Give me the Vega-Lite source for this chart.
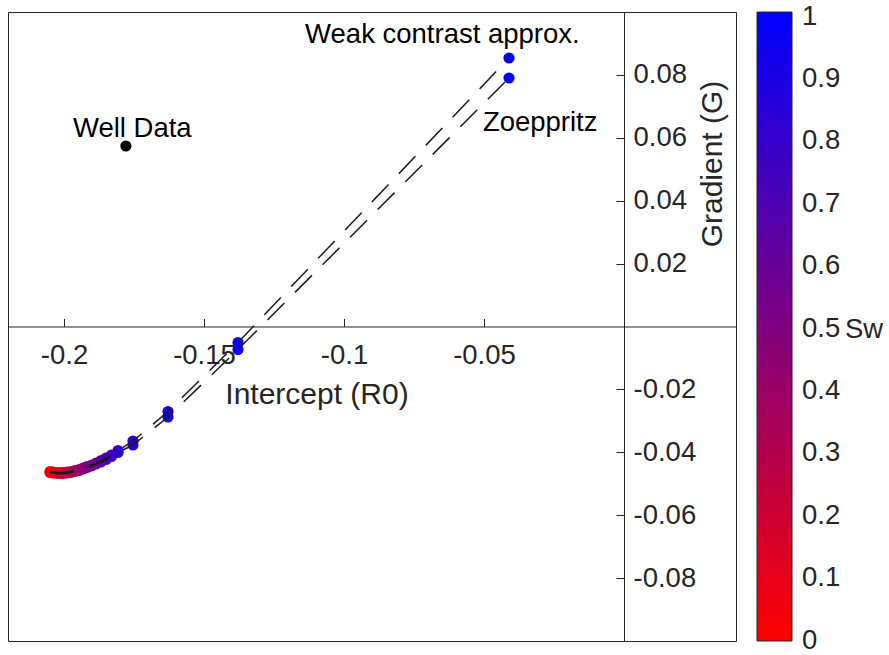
{
  "$schema": "https://vega.github.io/schema/vega-lite/v6.json",
  "width": 728,
  "height": 629,
  "autosize": {"type": "none"},
  "padding": {"left": 8, "top": 12, "right": 153, "bottom": 14},
  "background": "white",
  "config": {
    "font": "Liberation Sans",
    "view": {"stroke": "#262626", "strokeWidth": 1},
    "axis": {"grid": false}
  },
  "datasets": {
    "curves": [
      {"method": "Weak contrast", "Sw": 0, "R0": -0.2050, "G": -0.04610},
      {"method": "Weak contrast", "Sw": 0.05, "R0": -0.20393, "G": -0.04626},
      {"method": "Weak contrast", "Sw": 0.1, "R0": -0.20268, "G": -0.04642},
      {"method": "Weak contrast", "Sw": 0.15, "R0": -0.20143, "G": -0.04642},
      {"method": "Weak contrast", "Sw": 0.2, "R0": -0.20018, "G": -0.04642},
      {"method": "Weak contrast", "Sw": 0.25, "R0": -0.19893, "G": -0.04626},
      {"method": "Weak contrast", "Sw": 0.3, "R0": -0.19750, "G": -0.04610},
      {"method": "Weak contrast", "Sw": 0.35, "R0": -0.19607, "G": -0.04579},
      {"method": "Weak contrast", "Sw": 0.4, "R0": -0.19464, "G": -0.04547},
      {"method": "Weak contrast", "Sw": 0.45, "R0": -0.19321, "G": -0.04499},
      {"method": "Weak contrast", "Sw": 0.5, "R0": -0.19179, "G": -0.04452},
      {"method": "Weak contrast", "Sw": 0.55, "R0": -0.19018, "G": -0.04404},
      {"method": "Weak contrast", "Sw": 0.6, "R0": -0.18857, "G": -0.04340},
      {"method": "Weak contrast", "Sw": 0.65, "R0": -0.18679, "G": -0.04261},
      {"method": "Weak contrast", "Sw": 0.7, "R0": -0.18500, "G": -0.04181},
      {"method": "Weak contrast", "Sw": 0.75, "R0": -0.18304, "G": -0.04086},
      {"method": "Weak contrast", "Sw": 0.8, "R0": -0.18071, "G": -0.03943},
      {"method": "Weak contrast", "Sw": 0.85, "R0": -0.17536, "G": -0.03641},
      {"method": "Weak contrast", "Sw": 0.9, "R0": -0.16286, "G": -0.02703},
      {"method": "Weak contrast", "Sw": 0.95, "R0": -0.13786, "G": -0.00509},
      {"method": "Weak contrast", "Sw": 1, "R0": -0.04107, "G": 0.08537},
      {"method": "Zoeppritz", "Sw": 0, "R0": -0.2050, "G": -0.04642},
      {"method": "Zoeppritz", "Sw": 0.05, "R0": -0.20393, "G": -0.04658},
      {"method": "Zoeppritz", "Sw": 0.1, "R0": -0.20268, "G": -0.04674},
      {"method": "Zoeppritz", "Sw": 0.15, "R0": -0.20143, "G": -0.04674},
      {"method": "Zoeppritz", "Sw": 0.2, "R0": -0.20018, "G": -0.04674},
      {"method": "Zoeppritz", "Sw": 0.25, "R0": -0.19893, "G": -0.04658},
      {"method": "Zoeppritz", "Sw": 0.3, "R0": -0.19750, "G": -0.04642},
      {"method": "Zoeppritz", "Sw": 0.35, "R0": -0.19607, "G": -0.04610},
      {"method": "Zoeppritz", "Sw": 0.4, "R0": -0.19464, "G": -0.04579},
      {"method": "Zoeppritz", "Sw": 0.45, "R0": -0.19321, "G": -0.04531},
      {"method": "Zoeppritz", "Sw": 0.5, "R0": -0.19179, "G": -0.04483},
      {"method": "Zoeppritz", "Sw": 0.55, "R0": -0.19018, "G": -0.04436},
      {"method": "Zoeppritz", "Sw": 0.6, "R0": -0.18857, "G": -0.04372},
      {"method": "Zoeppritz", "Sw": 0.65, "R0": -0.18679, "G": -0.04308},
      {"method": "Zoeppritz", "Sw": 0.7, "R0": -0.18500, "G": -0.04229},
      {"method": "Zoeppritz", "Sw": 0.75, "R0": -0.18304, "G": -0.04134},
      {"method": "Zoeppritz", "Sw": 0.8, "R0": -0.18071, "G": -0.04006},
      {"method": "Zoeppritz", "Sw": 0.85, "R0": -0.17536, "G": -0.03768},
      {"method": "Zoeppritz", "Sw": 0.9, "R0": -0.16286, "G": -0.02878},
      {"method": "Zoeppritz", "Sw": 0.95, "R0": -0.13786, "G": -0.00731},
      {"method": "Zoeppritz", "Sw": 1, "R0": -0.04107, "G": 0.07901}
    ],
    "well": [
      {"R0": -0.1779, "G": 0.0574}
    ],
    "notes": [
      {"label": "Weak contrast approx.", "R0": -0.1139, "G": 0.0901},
      {"label": "Zoeppritz", "R0": -0.0504, "G": 0.0622},
      {"label": "Well Data", "R0": -0.1968, "G": 0.0601}
    ],
    "colorbarLabel": [
      {"label": "Sw", "R0": 0.07893, "G": -0.00366}
    ]
  },
  "encoding": {
    "x": {
      "field": "R0",
      "type": "quantitative",
      "scale": {"domain": [-0.22, 0.04], "nice": false, "zero": false},
      "axis": {
        "orient": "bottom",
        "offset": -314.5,
        "values": [-0.2, -0.15, -0.1, -0.05],
        "labelExpr": "'' + datum.value",
        "labelFont": "Liberation Sans",
        "labelFontSize": 27.5,
        "labelColor": "#262626",
        "labelPadding": 23,
        "labelFlush": false,
        "labelOverlap": false,
        "labelBound": false,
        "tickSize": -8,
        "tickColor": "#262626",
        "tickWidth": 1,
        "domainColor": "#262626",
        "domainWidth": 1,
        "title": "Intercept (R0)",
        "titleFont": "Liberation Sans",
        "titleFontSize": 30,
        "titleFontWeight": "normal",
        "titleColor": "#262626",
        "titleX": 308.5,
        "titleY": 76.5,
        "titleAlign": "center",
        "titleBaseline": "alphabetic"
      }
    },
    "y": {
      "field": "G",
      "type": "quantitative",
      "scale": {"domain": [-0.1, 0.1], "nice": false, "zero": false},
      "axis": {
        "orient": "right",
        "offset": -112,
        "values": [-0.08, -0.06, -0.04, -0.02, 0.02, 0.04, 0.06, 0.08],
        "labelExpr": "'' + datum.value",
        "labelFont": "Liberation Sans",
        "labelFontSize": 27.5,
        "labelColor": "#262626",
        "labelPadding": 17,
        "labelAlign": "left",
        "labelBaseline": "middle",
        "labelFlush": false,
        "labelOverlap": false,
        "labelBound": false,
        "tickSize": -8,
        "tickColor": "#262626",
        "tickWidth": 1,
        "domainColor": "#262626",
        "domainWidth": 1,
        "title": "Gradient (G)",
        "titleFont": "Liberation Sans",
        "titleFontSize": 30,
        "titleFontWeight": "normal",
        "titleColor": "#262626",
        "titleAngle": 270,
        "titleX": 97,
        "titleY": 151.5,
        "titleAlign": "center",
        "titleBaseline": "alphabetic"
      }
    }
  },
  "layer": [
    {
      "data": {"name": "curves"},
      "mark": {"type": "circle", "size": 125, "opacity": 1},
      "encoding": {
        "color": {
          "field": "Sw",
          "type": "quantitative",
          "scale": {"domain": [-0.0005, 1.0075], "range": ["#ff0000", "#0000ff"], "interpolate": "rgb", "nice": false, "zero": false},
          "legend": {
            "orient": "none",
            "legendX": 749,
            "legendY": 0,
            "direction": "vertical",
            "gradientLength": 629,
            "gradientThickness": 35,
            "gradientStrokeColor": "#262626",
            "gradientStrokeWidth": 1,
            "values": [0, 0.1, 0.2, 0.3, 0.4, 0.5, 0.6, 0.7, 0.8, 0.9, 1],
            "labelExpr": "'' + datum.value",
            "labelFont": "Liberation Sans",
            "labelFontSize": 27.5,
            "labelColor": "#262626",
            "labelOffset": 10,
            "labelBaseline": "middle",
            "labelOverlap": false,
            "title": null
          }
        }
      }
    },
    {
      "data": {"name": "curves"},
      "mark": {"type": "line", "color": "#1a1a1a", "strokeWidth": 1.5, "strokeDash": [24, 15]},
      "encoding": {
        "detail": {"field": "method", "type": "nominal"},
        "order": {"field": "Sw", "type": "quantitative"}
      }
    },
    {
      "data": {"name": "well"},
      "mark": {"type": "circle", "size": 125, "color": "#000000", "opacity": 1},
      "encoding": {}
    },
    {
      "data": {"name": "notes"},
      "mark": {"type": "text", "align": "left", "baseline": "alphabetic", "font": "Liberation Sans", "fontSize": 27.5, "color": "#000000"},
      "encoding": {
        "text": {"field": "label", "type": "nominal"}
      }
    },
    {
      "data": {"name": "colorbarLabel"},
      "mark": {"type": "text", "align": "left", "baseline": "alphabetic", "font": "Liberation Sans", "fontSize": 27.5, "color": "#262626", "clip": false},
      "encoding": {
        "text": {"field": "label", "type": "nominal"}
      }
    }
  ]
}
